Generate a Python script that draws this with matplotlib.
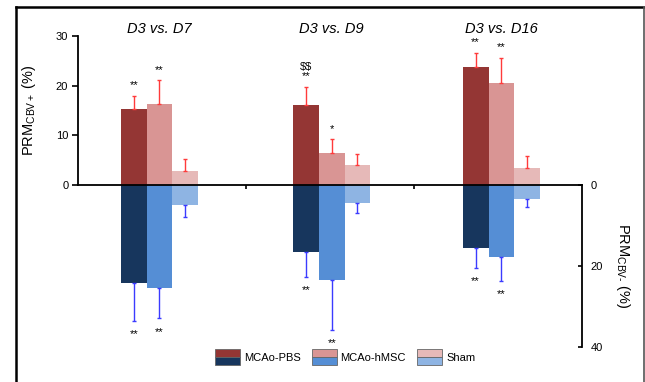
import matplotlib.pyplot as plt
import numpy as np
from matplotlib.legend_handler import HandlerBase
from matplotlib.patches import Rectangle
from matplotlib.lines import Line2D

plt.rcParams['font.family'] = ['Liberation Sans', 'DejaVu Sans']
plt.rcParams['mathtext.fontset'] = 'custom'
plt.rcParams['mathtext.rm'] = 'Liberation Sans'
plt.rcParams['mathtext.it'] = 'Liberation Sans:italic'

# data
groups = ['D3 vs. D7', 'D3 vs. D9', 'D3 vs. D16']
series = ['MCAo-PBS', 'MCAo-hMSC', 'Sham']

# PRM CBV+ (upper half)
pos_mean = {'MCAo-PBS': [15.4, 16.2, 23.7],
            'MCAo-hMSC': [16.4, 6.5, 20.6],
            'Sham': [2.9, 4.0, 3.4]}
pos_sd = {'MCAo-PBS': [2.5, 3.6, 2.9],
          'MCAo-hMSC': [4.7, 2.7, 5.0],
          'Sham': [2.3, 2.3, 2.4]}
pos_sig = {'MCAo-PBS': ['**', '$$\n**', '**'],
           'MCAo-hMSC': ['**', '*', '**'],
           'Sham': ['', '', '']}

# PRM CBV- (lower half)
neg_mean = {'MCAo-PBS': [24.1, 16.5, 15.6],
            'MCAo-hMSC': [25.5, 23.4, 17.9],
            'Sham': [4.9, 4.4, 3.5]}
neg_sd = {'MCAo-PBS': [9.5, 6.1, 4.8],
          'MCAo-hMSC': [7.4, 12.4, 5.7],
          'Sham': [3.0, 2.6, 2.0]}
neg_sig = {'MCAo-PBS': ['**', '**', '**'],
           'MCAo-hMSC': ['**', '**', '**'],
           'Sham': ['', '', '']}

pos_colors = {'MCAo-PBS': '#943634', 'MCAo-hMSC': '#D99594', 'Sham': '#E6B9B8'}
neg_colors = {'MCAo-PBS': '#17365D', 'MCAo-hMSC': '#558ED5', 'Sham': '#8EB4E3'}

centers = np.array([0.485, 1.51, 2.52])
w = 0.153
offsets = [-w, 0, w]

fig = plt.figure(figsize=(6.45, 3.82), dpi=100)
ax_top = fig.add_axes([78/645, 1-185/382, 504/645, 149/382])
ax_bot = fig.add_axes([78/645, 1-347/382, 504/645, 162/382])
ax_top.set_zorder(2)
ax_top.patch.set_visible(False)

for i, s in enumerate(series):
    x = centers + offsets[i]
    m = np.array(pos_mean[s])
    e = np.array(pos_sd[s])
    ax_top.bar(x, m, width=w, color=pos_colors[s], zorder=1)
    ax_top.errorbar(x, m, yerr=[np.zeros(3), e], fmt='none', ecolor='#FF3B3B',
                    elinewidth=1, capsize=1.5, capthick=1, zorder=1)
    for xi, top, lab in zip(x, m + e, pos_sig[s]):
        if lab:
            ax_top.annotate(lab.replace('$', r'\$'), (xi, top), xytext=(0, 4),
                            textcoords='offset points', ha='center', va='bottom',
                            fontsize=8, linespacing=0.9, annotation_clip=False)

    m = np.array(neg_mean[s])
    e = np.array(neg_sd[s])
    ax_bot.bar(x, m, width=w, color=neg_colors[s], zorder=1)
    ax_bot.errorbar(x, m, yerr=[np.zeros(3), e], fmt='none', ecolor='#3B3BFF',
                    elinewidth=1, capsize=1.5, capthick=1, zorder=1)
    for xi, bot, lab in zip(x, m + e, neg_sig[s]):
        if lab:
            ax_bot.annotate(lab, (xi, bot), xytext=(0, -6),
                            textcoords='offset points', ha='center', va='top',
                            fontsize=8, annotation_clip=False)

# upper axis
ax_top.set_xlim(0, 3)
ax_top.set_ylim(0, 30)
ax_top.set_yticks([0, 10, 20, 30])
ax_top.set_xticks([1, 2])
ax_top.set_xticklabels([])
ax_top.tick_params(axis='x', direction='out', length=3, width=1.2)
ax_top.tick_params(axis='y', direction='out', length=4, width=1.2, labelsize=8, pad=3)
for sp in ['top', 'right']:
    ax_top.spines[sp].set_visible(False)
ax_top.spines['left'].set_linewidth(1.3)
ax_top.spines['bottom'].set_linewidth(1.3)
ax_top.set_ylabel(r'PRM$_{\mathrm{CBV+}}$ (%)', fontsize=10.5)
ax_top.yaxis.set_label_coords(-0.079, 0.5)

for c, g in zip(centers, groups):
    ax_top.text(c, 31.4, g, ha='center', va='center', fontsize=10.5, style='italic')

# lower axis
ax_bot.set_xlim(0, 3)
ax_bot.set_ylim(40, 0)
ax_bot.set_yticks([0, 20, 40])
ax_bot.set_xticks([])
ax_bot.yaxis.tick_right()
ax_bot.yaxis.set_label_position('right')
ax_bot.tick_params(axis='y', direction='in', length=3, width=1.2, labelsize=8, pad=6)
for sp in ['top', 'left', 'bottom']:
    ax_bot.spines[sp].set_visible(False)
ax_bot.spines['right'].set_linewidth(1.3)
ax_bot.set_ylabel(r'PRM$_{\mathrm{CBV\text{-}}}$ (%)', fontsize=10.5, rotation=270, va='center')
ax_bot.yaxis.set_label_coords(1.082, 0.5)


# legend with split red/blue swatches
class SplitHandler(HandlerBase):
    def create_artists(self, legend, orig_handle, xdescent, ydescent,
                       width, height, fontsize, trans):
        top_c, bot_c = orig_handle
        r1 = Rectangle((-xdescent, -ydescent + height / 2), width, height / 2,
                       facecolor=top_c, edgecolor='#666666', lw=0.6, transform=trans)
        r2 = Rectangle((-xdescent, -ydescent), width, height / 2,
                       facecolor=bot_c, edgecolor='#666666', lw=0.6, transform=trans)
        return [r1, r2]


handles = [(pos_colors[s], neg_colors[s]) for s in series]
fig.legend(handles, series, handler_map={tuple: SplitHandler()},
           loc='center', bbox_to_anchor=(345/645, 1-357/382), ncol=3,
           frameon=False, fontsize=8, handlelength=2.25, handleheight=1.9,
           handletextpad=0.35, columnspacing=1.0)

# outer frame
fig.add_artist(Line2D([15.5/645, 15.5/645], [0, 1-7/382], color='black', lw=1.8))
fig.add_artist(Line2D([15.5/645, 643.5/645], [1-7/382, 1-7/382], color='black', lw=1.8))
fig.add_artist(Line2D([643.5/645, 643.5/645], [0, 1-7/382], color='#555555', lw=1.2))

fig.savefig('out.png', dpi=100)
